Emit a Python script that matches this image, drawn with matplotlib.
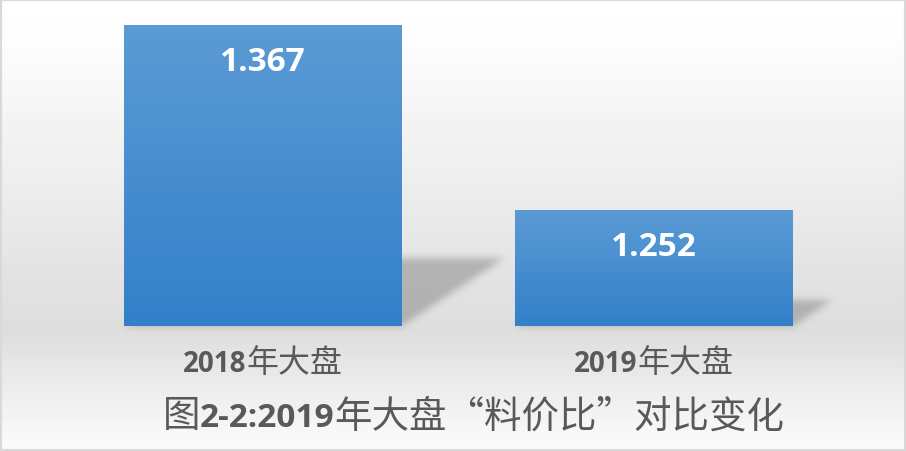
import numpy as np
import matplotlib
matplotlib.use('Agg')
import matplotlib.pyplot as plt
from matplotlib.patches import Rectangle
from matplotlib.path import Path
from matplotlib.colors import LinearSegmentedColormap, to_rgb
from matplotlib.offsetbox import TextArea, HPacker, AnnotationBbox
from itertools import groupby

# data
categories = ['2018年大盘', '2019年大盘']
values = [1.367, 1.252]
title = '图2-2:2019年大盘“料价比”对比变化'

TXT = '#595959'
LATIN = 'Open Sans'
CJK = 'Noto Sans CJK SC'
Y_LO, Y_HI = 1.18, 1.38
W, H = 906, 452


def rich_text(s, latin_size, cjk_size, color=TXT):
    # latin runs bold, CJK runs regular, like the original
    kids = []
    for is_latin, chunk in groupby(s, key=lambda c: c.isascii()):
        chunk = ''.join(chunk)
        if is_latin:
            props = dict(color=color, fontsize=latin_size, family=LATIN, fontweight='bold')
        else:
            props = dict(color=color, fontsize=cjk_size, family=[CJK, 'DejaVu Sans'])
        kids.append(TextArea(chunk, textprops=props))
    return HPacker(children=kids, pad=0, sep=0, align='baseline')


def blur(img, sigma):
    r = int(3 * sigma)
    k = np.exp(-0.5 * (np.arange(-r, r + 1) / sigma) ** 2)
    k /= k.sum()
    img = np.apply_along_axis(lambda m: np.convolve(m, k, mode='same'), 0, img)
    img = np.apply_along_axis(lambda m: np.convolve(m, k, mode='same'), 1, img)
    return img


fig = plt.figure(figsize=(W / 100, H / 100), dpi=100)

# background gradient: white -> light gray under bars -> white
bg = fig.add_axes([0, 0, 1, 1], zorder=-5)
ypix = np.linspace(0, H, H)
shade = np.interp(ypix, [0, 40, 330, 452], [255, 253, 221, 252]) / 255.0
bg.imshow(np.repeat(shade[:, None], 2, axis=1), cmap='gray', vmin=0, vmax=1,
          aspect='auto', extent=[0, 1, 0, 1], origin='upper')
bg.set_xlim(0, 1)
bg.set_ylim(0, 1)
bg.set_axis_off()

ax = fig.add_axes([67.5 / W, 125 / H, 782 / W, 321.7 / H])
ax.set_facecolor('none')
x = np.arange(len(categories))
bars = ax.bar(x, np.array(values) - Y_LO, bottom=Y_LO, width=0.71,
              color='#3a84cc', zorder=3)
ax.set_xlim(-0.5, 1.5)
ax.set_ylim(Y_LO, Y_HI)
ax.set_axis_off()

# vertical gradient inside the bars
cmap = LinearSegmentedColormap.from_list('bar', ['#3380c9', '#5b9bd5'])
grad = np.linspace(0, 1, 256).reshape(-1, 1)
for b in bars:
    xl, yb = b.get_x(), b.get_y()
    im = ax.imshow(grad, cmap=cmap, origin='lower', aspect='auto',
                   extent=[xl, xl + b.get_width(), yb, yb + b.get_height()], zorder=4)
    im.set_clip_path(b)
ax.set_xlim(-0.5, 1.5)
ax.set_ylim(Y_LO, Y_HI)

# skewed soft shadows behind bars, rasterised and blurred on the background
xx, yy = np.meshgrid(np.arange(W) + 0.5, np.arange(H) + 0.5)
grid_pts = np.column_stack([xx.ravel(), yy.ravel()])
mask = np.zeros((H, W))
for b in bars:
    (x0, y0) = ax.transData.transform((b.get_x(), b.get_y()))
    (x1, y1) = ax.transData.transform((b.get_x() + b.get_width(), b.get_y() + b.get_height()))
    h = y1 - y0
    dx, dy = 0.34 * h, 0.225 * h
    poly = Path([(x0, y0), (x1, y0), (x1 + dx, y0 + dy), (x0 + dx, y0 + dy)])
    mask = np.maximum(mask, poly.contains_points(grid_pts).reshape(H, W).astype(float))
mask = blur(mask, 3.5)
rgba = np.zeros((H, W, 4))
rgba[..., :3] = to_rgb('#3c3c3c')
rgba[..., 3] = mask * 0.29
bg.imshow(rgba, extent=[0, 1, 0, 1], origin='lower', aspect='auto', zorder=2)

# value labels
for xi, v in zip(x, values):
    ax.annotate(f'{v:.3f}', xy=(xi, v), xytext=(0, -26), textcoords='offset points',
                ha='center', va='center', color='white', fontsize=24,
                fontweight='bold', family=LATIN, zorder=6)

# category labels
for xi, c in zip(x, categories):
    ab = AnnotationBbox(rich_text(c, 20, 23), (xi, 0), xycoords=ax.get_xaxis_transform(),
                        xybox=(0, -26), boxcoords='offset points', frameon=False,
                        box_alignment=(0.5, 0.5), annotation_clip=False)
    ax.add_artist(ab)

# title at the bottom
ab = AnnotationBbox(rich_text(title, 24, 27), (473.5 / W, 35 / H), xycoords='figure fraction',
                    frameon=False, box_alignment=(0.5, 0.5))
fig.add_artist(ab)

fig.patches.append(Rectangle((0, 0), 1, 1, transform=fig.transFigure, fill=False,
                             edgecolor='#d9d9d9', linewidth=3))

fig.savefig('out.png', dpi=100)
